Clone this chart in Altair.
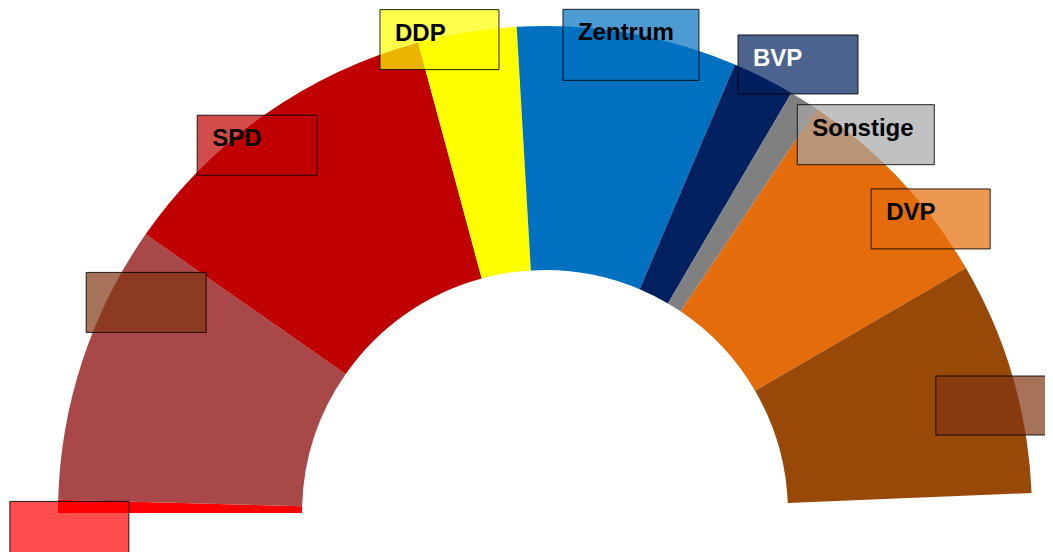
import math
import altair as alt
import pandas as pd

# ---- data ----
parties = ["KPD", "USPD", "SPD", "DDP", "Zentrum", "BVP", "Sonstige", "DVP", "DNVP"]
seats = [4, 85, 102, 30, 67, 19, 9, 66, 71]
total_seats = 459
label_texts = ["", "", "SPD", "DDP", "Zentrum", "BVP", "Sonstige", "DVP", ""]

# ---- styles ----
slice_colors = ["#ff0000", "#a84848", "#c00000", "#ffff00", "#0070c0",
                "#002060", "#808080", "#e46c0a", "#984807"]
box_colors = ["#ff0000", "#803613", "#c00000", "#ffff00", "#0070c0",
              "#002060", "#a6a6a6", "#e46c0a", "#803613"]
text_colors = ["black", "black", "black", "black", "black",
               "white", "black", "black", "black"]

# ---- layout (label boxes placed around each slice's mid-angle) ----
label_angle_nudge = [-3.0, 9.6, -2.95, -3.35, 0.6, 2.76, 8.14, 5.81, 2.85]
label_radius = [476, 451, 467, 485, 476, 515, 496, 485, 463]
box_w = [119, 120, 120, 119, 136, 120, 137, 119, 119]
box_h = [60, 60, 60, 60, 71, 59, 60, 60, 59]

W, H = 1037, 544
CX, CY = 537, 505
R_OUT, R_IN = 487, 243

df = pd.DataFrame({
    "idx": list(range(len(parties))),
    "party": parties,
    "seats": seats,
    "label": label_texts,
    "boxcolor": box_colors,
    "textcolor": text_colors,
    "dphi": label_angle_nudge,
    "rad": label_radius,
    "bw": box_w,
    "bh": box_h,
})

base = alt.Chart(df)

arcs = base.mark_arc(innerRadius=R_IN, outerRadius=R_OUT, strokeWidth=0).encode(
    theta=alt.Theta("seats:Q", stack=True,
                    scale=alt.Scale(domain=[0, total_seats],
                                    range=[-math.pi / 2, math.pi / 2], nice=False)),
    color=alt.Color("party:N", scale=alt.Scale(domain=parties, range=slice_colors),
                    legend=None),
    order=alt.Order("idx:Q"),
    x=alt.value(CX),
    y=alt.value(CY),
)

lab = base.transform_window(
    cum="sum(seats)", sort=[alt.SortField("idx")], frame=[None, 0]
).transform_calculate(
    phi=f"(datum.cum - datum.seats / 2) / {total_seats} * PI + datum.dphi * PI / 180",
).transform_calculate(
    bx=f"{CX} - datum.rad * cos(datum.phi)",
    by=f"{CY} - datum.rad * sin(datum.phi)",
).transform_calculate(
    x0="datum.bx - datum.bw / 2",
    x1="datum.bx + datum.bw / 2",
    y0="datum.by - datum.bh / 2",
    y1="datum.by + datum.bh / 2",
).transform_calculate(
    tx="datum.x0 + 15",
    ty="datum.y0 + 31",
)

boxes = lab.mark_rect(stroke="black", strokeWidth=1, strokeOpacity=0.85,
                      fillOpacity=0.7).encode(
    x=alt.X("x0:Q", scale=None, axis=None),
    x2="x1:Q",
    y=alt.Y("y0:Q", scale=None, axis=None),
    y2="y1:Q",
    fill=alt.Fill("boxcolor:N", scale=None),
)

texts = lab.mark_text(align="left", baseline="alphabetic", font="Liberation Sans",
                      fontSize=24, fontWeight="bold").encode(
    x=alt.X("tx:Q", scale=None, axis=None),
    y=alt.Y("ty:Q", scale=None, axis=None),
    text="label:N",
    color=alt.Color("textcolor:N", scale=None),
)

chart = alt.layer(arcs, boxes, texts).properties(
    width=W, height=H, padding=0,
    autosize=alt.AutoSizeParams(type="none"),
).configure_view(stroke=None)

chart.save("out.html", embed_options={"renderer": "svg", "actions": False})
